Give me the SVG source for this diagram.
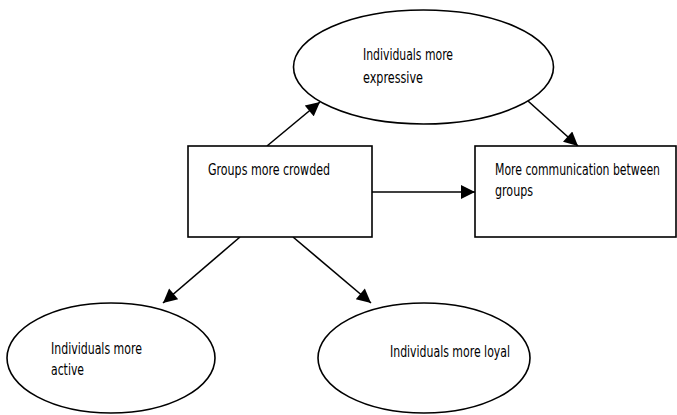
<svg xmlns="http://www.w3.org/2000/svg" width="677" height="415" viewBox="0 0 677 415">
<defs>
<style>
.shape{fill:#fff;stroke:#000;stroke-width:1.6}
.t{font-family:"DejaVu Sans Condensed","DejaVu Sans","Liberation Sans",sans-serif;font-stretch:condensed;font-size:16px;fill:#000}
.c{stroke:#000;stroke-width:1.6;fill:none;marker-end:url(#ah)}
</style>
<marker id="ah" viewBox="0 0 10 10" refX="10" refY="5" markerUnits="userSpaceOnUse" markerWidth="16" markerHeight="14" orient="auto">
<path d="M0,0 L10,5 L0,10 z" fill="#000"/>
</marker>
</defs>
<rect width="677" height="415" fill="#fff"/>
<g id="connectors">
<line class="c" x1="267" y1="146" x2="320" y2="102"/>
<line class="c" x1="528" y1="101" x2="578" y2="146"/>
<line class="c" x1="372" y1="192" x2="475" y2="192"/>
<line class="c" x1="240" y1="237" x2="163" y2="303"/>
<line class="c" x1="293" y1="237" x2="371" y2="303"/>
</g>
<g id="n_expressive">
<ellipse class="shape" cx="423.5" cy="67" rx="130" ry="57"/>
<text class="t" x="363" y="60" textLength="90" lengthAdjust="spacingAndGlyphs">Individuals more</text>
<text class="t" x="363" y="83" textLength="60" lengthAdjust="spacingAndGlyphs">expressive</text>
</g>
<g id="n_crowded">
<rect class="shape" x="188" y="146" width="184" height="91"/>
<text class="t" x="208" y="175" textLength="122" lengthAdjust="spacingAndGlyphs">Groups more crowded</text>
</g>
<g id="n_communication">
<rect class="shape" x="475" y="146" width="201" height="91"/>
<text class="t" x="495" y="175" textLength="165" lengthAdjust="spacingAndGlyphs">More communication between</text>
<text class="t" x="495" y="196" textLength="38" lengthAdjust="spacingAndGlyphs">groups</text>
</g>
<g id="n_active">
<ellipse class="shape" cx="111" cy="358" rx="104" ry="55"/>
<text class="t" x="51" y="354" textLength="91" lengthAdjust="spacingAndGlyphs">Individuals more</text>
<text class="t" x="51" y="375" textLength="33" lengthAdjust="spacingAndGlyphs">active</text>
</g>
<g id="n_loyal">
<ellipse class="shape" cx="424" cy="358" rx="106" ry="55"/>
<text class="t" x="390" y="357" textLength="120" lengthAdjust="spacingAndGlyphs">Individuals more loyal</text>
</g>
</svg>
